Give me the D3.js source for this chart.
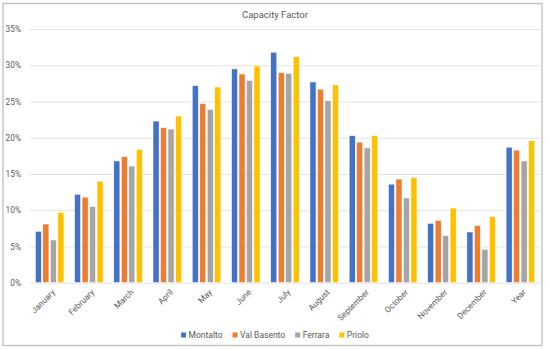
<!DOCTYPE html>
<html>
<head>
<meta charset="utf-8">
<script src="https://cdn.jsdelivr.net/npm/d3@7"></script>
<style>
  body { margin: 0; background: #fff; }
  svg text { font-family: Roboto, "Open Sans", sans-serif; fill: #595959; }
</style>
</head>
<body>
<svg id="chart" width="550" height="350"></svg>
<script>
// values (capacity factor, %)
var months = ["January", "February", "March", "April", "May", "June", "July",
              "August", "September", "October", "November", "December", "Year"];
var sites = ["Montalto", "Val Basento", "Ferrara", "Priolo"];
var montalto   = [7.1, 12.2, 16.8, 22.3, 27.2, 29.5, 31.8, 27.7, 20.3, 13.6, 8.2, 7.0, 18.7];
var valBasento = [8.1, 11.8, 17.4, 21.4, 24.7, 28.8, 29.0, 26.7, 19.4, 14.3, 8.6, 7.9, 18.3];
var ferrara    = [5.9, 10.5, 16.1, 21.2, 23.9, 27.9, 28.9, 25.1, 18.6, 11.7, 6.5, 4.6, 16.8];
var priolo     = [9.7, 14.0, 18.4, 23.0, 27.0, 29.9, 31.2, 27.3, 20.3, 14.5, 10.3, 9.1, 19.6];
var yTicks = [0, 5, 10, 15, 20, 25, 30, 35];
var colors = ["#4472C4", "#ED7D31", "#A5A5A5", "#FFC000"];

var series = [montalto, valBasento, ferrara, priolo];
var rows = months.map(function(m, i) {
    return { month: m, vals: series.map(function(s, j) { return { site: sites[j], v: s[i] }; }) };
});

var svg = d3.select("#chart");
var plotLeft = 30, plotRight = 540, plotTop = 29, plotBottom = 282.7;

// outer frame
svg.append("rect")
    .attr("x", 3).attr("y", 3.5).attr("width", 539).attr("height", 342)
    .attr("fill", "#fff").attr("stroke", "#bfbfbf").attr("stroke-width", 1.3);

svg.append("text")
    .attr("x", 275).attr("y", 17.5)
    .attr("text-anchor", "middle")
    .style("font-size", "9.5px")
    .text("Capacity Factor");

var x0 = d3.scaleBand().domain(months).range([plotLeft, plotRight])
    .paddingInner(0.27).paddingOuter(0.135);
var x1 = d3.scaleBand().domain(sites).range([0, x0.bandwidth()]).paddingInner(0.18);
var y = d3.scaleLinear().domain([0, 35]).range([plotBottom, plotTop]);

// gridlines + y labels
var yAxis = svg.append("g")
    .attr("transform", "translate(" + plotLeft + ",0)")
    .call(d3.axisLeft(y).tickValues(yTicks).tickSize(-(plotRight - plotLeft))
        .tickFormat(function(d) { return d + "%"; }).tickPadding(9));
yAxis.select(".domain").remove();
yAxis.selectAll("line").attr("stroke", "#e3e3e3").attr("stroke-width", 1);
yAxis.selectAll("text").style("font-size", "8.3px").attr("fill", "#595959");

// bars
var groups = svg.append("g").selectAll("g")
    .data(rows).enter().append("g")
    .attr("transform", function(d) { return "translate(" + x0(d.month) + ",0)"; });
groups.selectAll("rect")
    .data(function(d) { return d.vals; })
    .enter().append("rect")
    .attr("x", function(d) { return x1(d.site); })
    .attr("y", function(d) { return y(d.v); })
    .attr("width", x1.bandwidth())
    .attr("height", function(d) { return y(0) - y(d.v); })
    .attr("fill", function(d, i) { return colors[i]; })
    .attr("stroke", "#fff").attr("stroke-width", 0.6);

// x labels
var xAxis = svg.append("g")
    .attr("transform", "translate(0," + plotBottom + ")")
    .call(d3.axisBottom(x0).tickSize(0));
xAxis.select(".domain").remove();
xAxis.selectAll("text")
    .attr("y", 0).attr("dy", "0.35em")
    .attr("transform", "translate(4,8) rotate(-45)")
    .attr("text-anchor", "end")
    .style("font-size", "8.3px").attr("fill", "#595959");

// legend
var legend = svg.append("g").attr("transform", "translate(0,335)");
var items = legend.selectAll("g").data(sites).enter().append("g");
items.append("rect")
    .attr("y", -2.5).attr("width", 5).attr("height", 5)
    .attr("fill", function(d, i) { return colors[i]; });
items.append("text")
    .attr("x", 7.5).attr("dy", "0.35em")
    .style("font-size", "8.5px")
    .text(function(d) { return d; });
var pos = 0, offs = [];
items.each(function() {
    offs.push(pos);
    pos += 7.5 + d3.select(this).select("text").node().getComputedTextLength() + 10;
});
pos -= 10;
var start = 275 - pos / 2;
items.attr("transform", function(d, i) { return "translate(" + (start + offs[i]) + ",0)"; });
</script>
</body>
</html>
